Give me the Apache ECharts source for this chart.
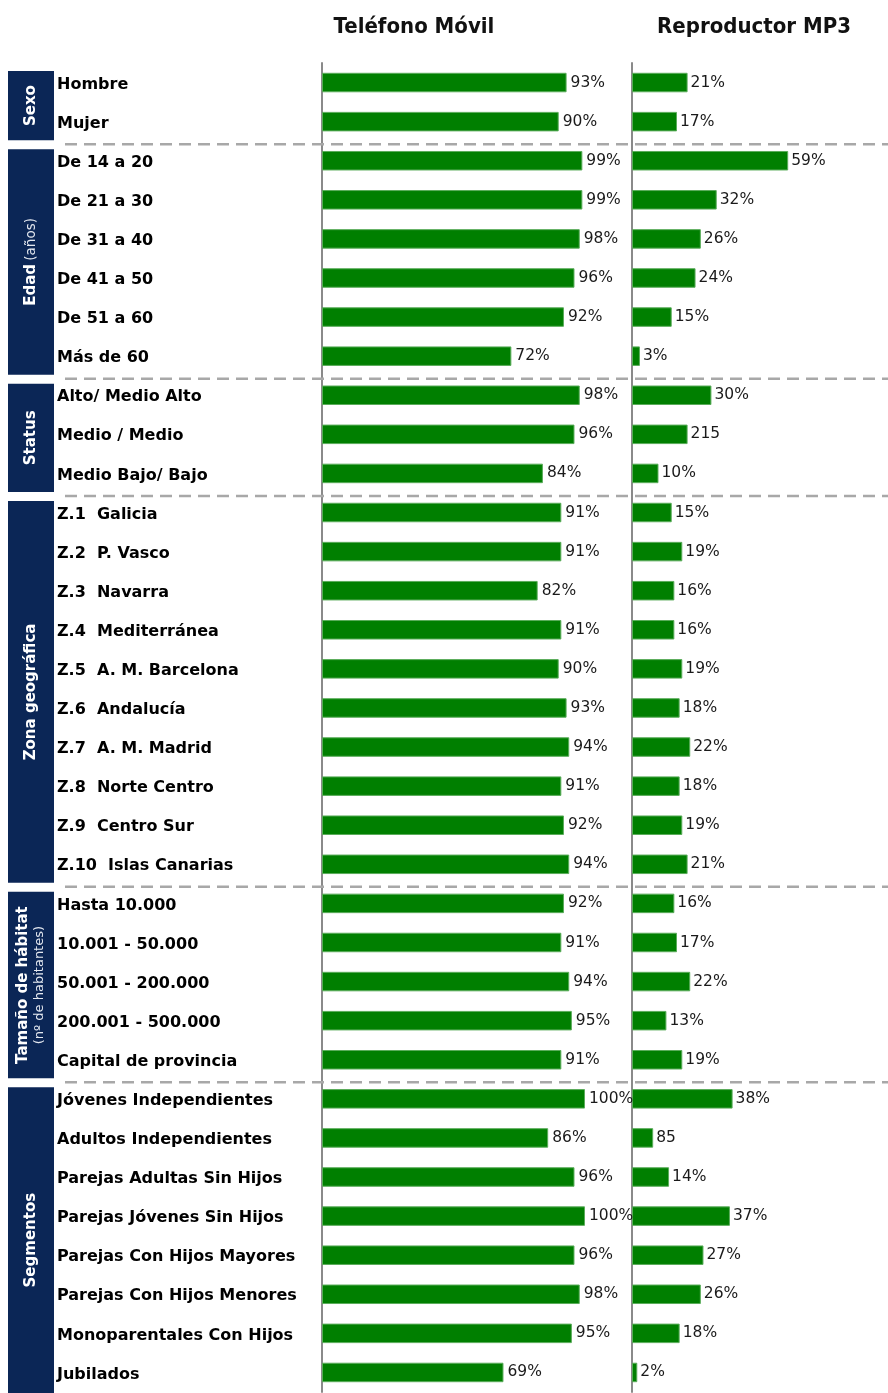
<!DOCTYPE html>
<html>
<head>
<meta charset="utf-8">
<script src="https://cdn.jsdelivr.net/npm/echarts@6/dist/echarts.min.js"></script>
<style>
  html, body { margin: 0; padding: 0; background: #ffffff; }
  #chart { width: 888px; height: 1393px; }
</style>
</head>
<body>
<div id="chart"></div>
<script>
// Row labels, top to bottom
const categories = [
  'Hombre', 'Mujer',
  'De 14 a 20', 'De 21 a 30', 'De 31 a 40', 'De 41 a 50', 'De 51 a 60', 'Más de 60',
  'Alto/ Medio Alto', 'Medio / Medio', 'Medio Bajo/ Bajo',
  'Z.1  Galicia', 'Z.2  P. Vasco', 'Z.3  Navarra', 'Z.4  Mediterránea', 'Z.5  A. M. Barcelona',
  'Z.6  Andalucía', 'Z.7  A. M. Madrid', 'Z.8  Norte Centro', 'Z.9  Centro Sur', 'Z.10  Islas Canarias',
  'Hasta 10.000', '10.001 - 50.000', '50.001 - 200.000', '200.001 - 500.000', 'Capital de provincia',
  'Jóvenes Independientes', 'Adultos Independientes', 'Parejas Adultas Sin Hijos', 'Parejas Jóvenes Sin Hijos',
  'Parejas Con Hijos Mayores', 'Parejas Con Hijos Menores', 'Monoparentales Con Hijos', 'Jubilados'
];

// Row groups (label shown in the dark side box) and how many rows each covers
const groupNames = ['Sexo', 'Edad', 'Status', 'Zona', 'Tamaño', 'Segmentos'];
const groupSizes = [2, 6, 3, 10, 5, 8];

// Penetration (%) per row
const movilValues = [
  93, 90,
  99, 99, 98, 96, 92, 72,
  98, 96, 84,
  91, 91, 82, 91, 90, 93, 94, 91, 92, 94,
  92, 91, 94, 95, 91,
  100, 86, 96, 100, 96, 98, 95, 69
];
const mp3Values = [
  21, 17,
  59, 32, 26, 24, 15, 3,
  30, 21, 10,
  15, 19, 16, 16, 19, 18, 22, 18, 19, 21,
  16, 17, 22, 13, 19,
  38, 8, 14, 37, 27, 26, 18, 2
];
// Value labels printed differently from the usual "NN%" form
const mp3PrintedLabels = { 'Medio / Medio': '215', 'Adultos Independientes': '85' };

const panelTitles = ['Teléfono Móvil', 'Reproductor MP3'];

const chart = echarts.init(document.getElementById('chart'), null, { renderer: 'canvas' });

const gridTop = 63;
const gridHeight = 1329;
const barColor = '#007f00';
const barBorder = '#5aac5a';
const labelFont = { fontFamily: 'DejaVu Sans', fontSize: 15.5, color: '#1a1a1a', padding: [3, 0, 0, 0] };

function yAxisFor(gridIndex, showLabels) {
  return {
    type: 'category',
    gridIndex: gridIndex,
    data: categories,
    inverse: true,
    axisTick: { show: false },
    axisLine: { show: true, lineStyle: { color: '#8a8a8a', width: 2 } },
    splitLine: { show: false },
    axisLabel: showLabels ? {
      show: true,
      align: 'left',
      verticalAlign: 'top',
      margin: 265,
      fontFamily: 'DejaVu Sans',
      fontWeight: 'bold',
      fontSize: 16,
      color: '#000',
      padding: [-6, 0, 0, 0]
    } : { show: false }
  };
}

const option = {
  backgroundColor: '#ffffff',
  animation: false,
  grid: [
    { left: 322, top: gridTop, width: 263, height: gridHeight },
    { left: 632, top: gridTop, width: 251.5, height: gridHeight }
  ],
  xAxis: [
    { type: 'value', gridIndex: 0, min: 0, max: 100, show: false },
    { type: 'value', gridIndex: 1, min: 0, max: 95, show: false }
  ],
  yAxis: [yAxisFor(0, true), yAxisFor(1, false)],
  series: [
    {
      name: panelTitles[0],
      type: 'bar',
      xAxisIndex: 0, yAxisIndex: 0,
      data: movilValues,
      barWidth: 19.5,
      itemStyle: { color: barColor, borderColor: barBorder, borderWidth: 1 },
      label: {
        show: true, position: 'right', distance: 4,
        formatter: p => p.value + '%',
        ...labelFont
      }
    },
    {
      name: panelTitles[1],
      type: 'bar',
      xAxisIndex: 1, yAxisIndex: 1,
      data: mp3Values,
      barWidth: 19.5,
      itemStyle: { color: barColor, borderColor: barBorder, borderWidth: 1 },
      label: {
        show: true, position: 'right', distance: 3,
        formatter: p => mp3PrintedLabels[categories[p.dataIndex]] || (p.value + '%'),
        ...labelFont
      }
    }
  ]
};

chart.setOption(option);

// Side boxes, group separators and panel headings, positioned from the category scale
const rowY = i => chart.convertToPixel({ yAxisIndex: 0 }, categories[i]);
const band = rowY(1) - rowY(0);

const groupText = {
  'Sexo': { text: '{b|Sexo}' },
  'Edad': { text: '{b|Edad} {n|(años)}' },
  'Status': { text: '{b|Status}' },
  'Zona': { text: '{b|Zona geográfica}' },
  'Tamaño': { text: '{b|Tamaño de hábitat}\n{s|(nº de habitantes)}' },
  'Segmentos': { text: '{b|Segmentos}' }
};

const graphics = [];
let start = 0;
groupNames.forEach((g, gi) => {
  const end = start + groupSizes[gi] - 1;
  const top = rowY(start) - band / 2;
  const bottom = rowY(end) + band / 2;
  const boxTop = top + 8;
  const boxBottom = gi === groupNames.length - 1 ? 1393 : bottom - 1;
  graphics.push({
    type: 'rect',
    shape: { x: 8, y: boxTop, width: 46, height: boxBottom - boxTop },
    style: { fill: '#0b2656' },
    z: 10
  });
  graphics.push({
    type: 'text',
    x: 31,
    y: (boxTop + boxBottom) / 2,
    rotation: Math.PI / 2,
    z: 11,
    style: {
      text: groupText[g].text,
      align: 'center',
      verticalAlign: 'middle',
      fill: '#ffffff',
      rich: {
        b: { fontFamily: 'DejaVu Sans', fontWeight: 'bold', fontSize: 15, fill: '#ffffff', lineHeight: 17 },
        n: { fontFamily: 'DejaVu Sans', fontSize: 13.5, fill: '#e4e8f0', lineHeight: 17 },
        s: { fontFamily: 'DejaVu Sans', fontSize: 13, fill: '#e4e8f0', lineHeight: 15 }
      }
    }
  });
  if (gi < groupNames.length - 1) {
    graphics.push({
      type: 'line',
      shape: { x1: 65, y1: bottom + 3, x2: 888, y2: bottom + 3 },
      style: { stroke: '#a8a8a8', lineWidth: 2.5, lineDash: [12, 7] },
      z: 5
    });
  }
  start = end + 1;
});

[414, 754].forEach((cx, i) => {
  graphics.push({
    type: 'text',
    x: cx,
    y: 27,
    z: 11,
    style: {
      text: panelTitles[i],
      align: 'center',
      verticalAlign: 'middle',
      fill: '#111111',
      font: 'bold 22px "DejaVu Sans Condensed", "DejaVu Sans", sans-serif'
    }
  });
});

chart.setOption({ graphic: graphics });
</script>
</body>
</html>
